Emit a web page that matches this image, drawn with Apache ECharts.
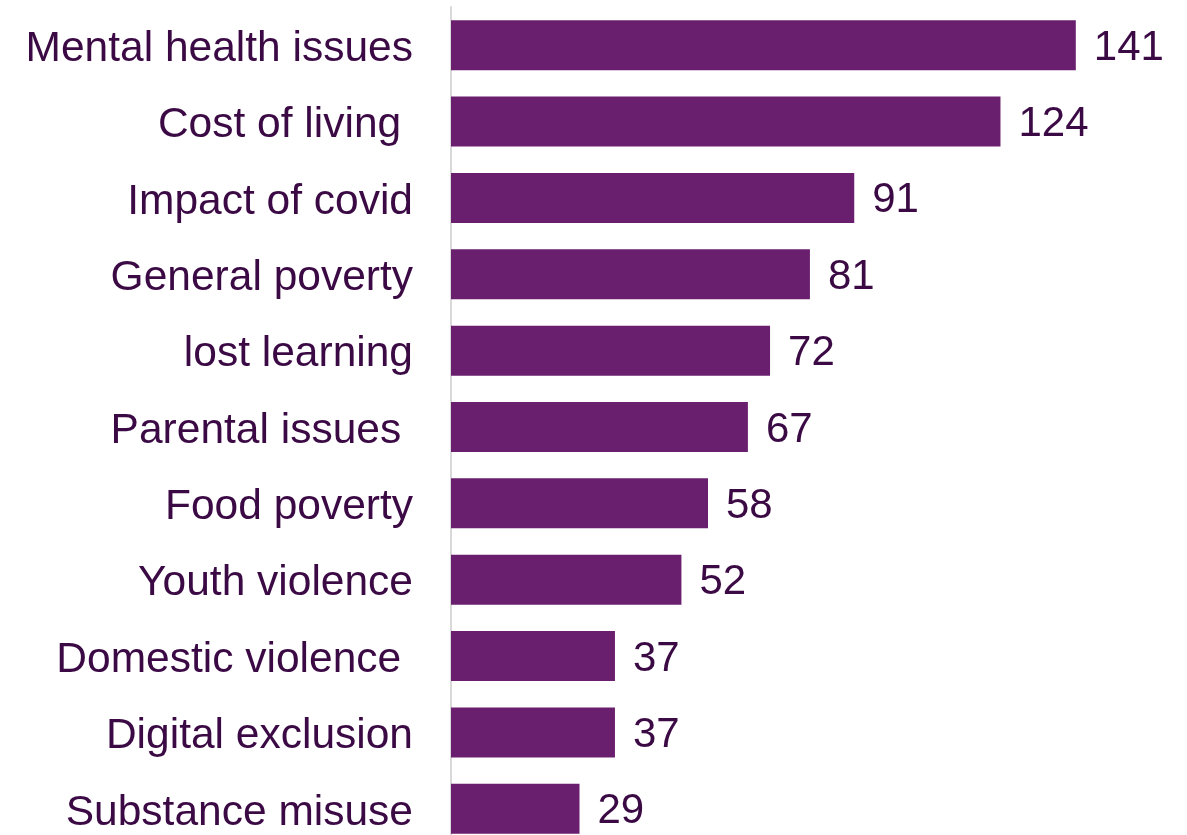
<!DOCTYPE html>
<html><head><meta charset="utf-8">
<script src="https://cdn.jsdelivr.net/npm/echarts@6/dist/echarts.min.js"></script>
<style>html,body{margin:0;padding:0;background:#fff;overflow:hidden}#c{width:1187px;height:850px}</style>
</head><body><div id="c"></div>
<script>
const categories = ["Mental health issues","Cost of living ","Impact of covid","General poverty","lost learning","Parental issues ","Food poverty","Youth violence","Domestic violence ","Digital exclusion","Substance misuse"];
const values = [141,124,91,81,72,67,58,52,37,37,29];
const chart = echarts.init(document.getElementById('c'));
chart.setOption({
  animation:false,
  grid:{left:451,top:7,width:709,height:840,containLabel:false},
  xAxis:{type:'value',min:0,max:160,show:false},
  yAxis:{type:'category',data:categories,inverse:true,
    axisLine:{show:true,lineStyle:{color:'#d9d9d9',width:2}},
    axisTick:{show:false},
    axisLabel:{margin:38,formatter:function(v){return '{a|'+v+'}';},
      rich:{a:{color:'#3b0a45',fontFamily:'Liberation Sans',fontSize:42.5,padding:[8,0,0,0]}}}},
  series:[{type:'bar',data:values,barWidth:50,
    itemStyle:{color:'#6a1f6e'},
    label:{show:true,position:'right',distance:18,offset:[0,3],color:'#3b0a45',fontFamily:'Liberation Sans',fontSize:42}}]
});
</script></body></html>
